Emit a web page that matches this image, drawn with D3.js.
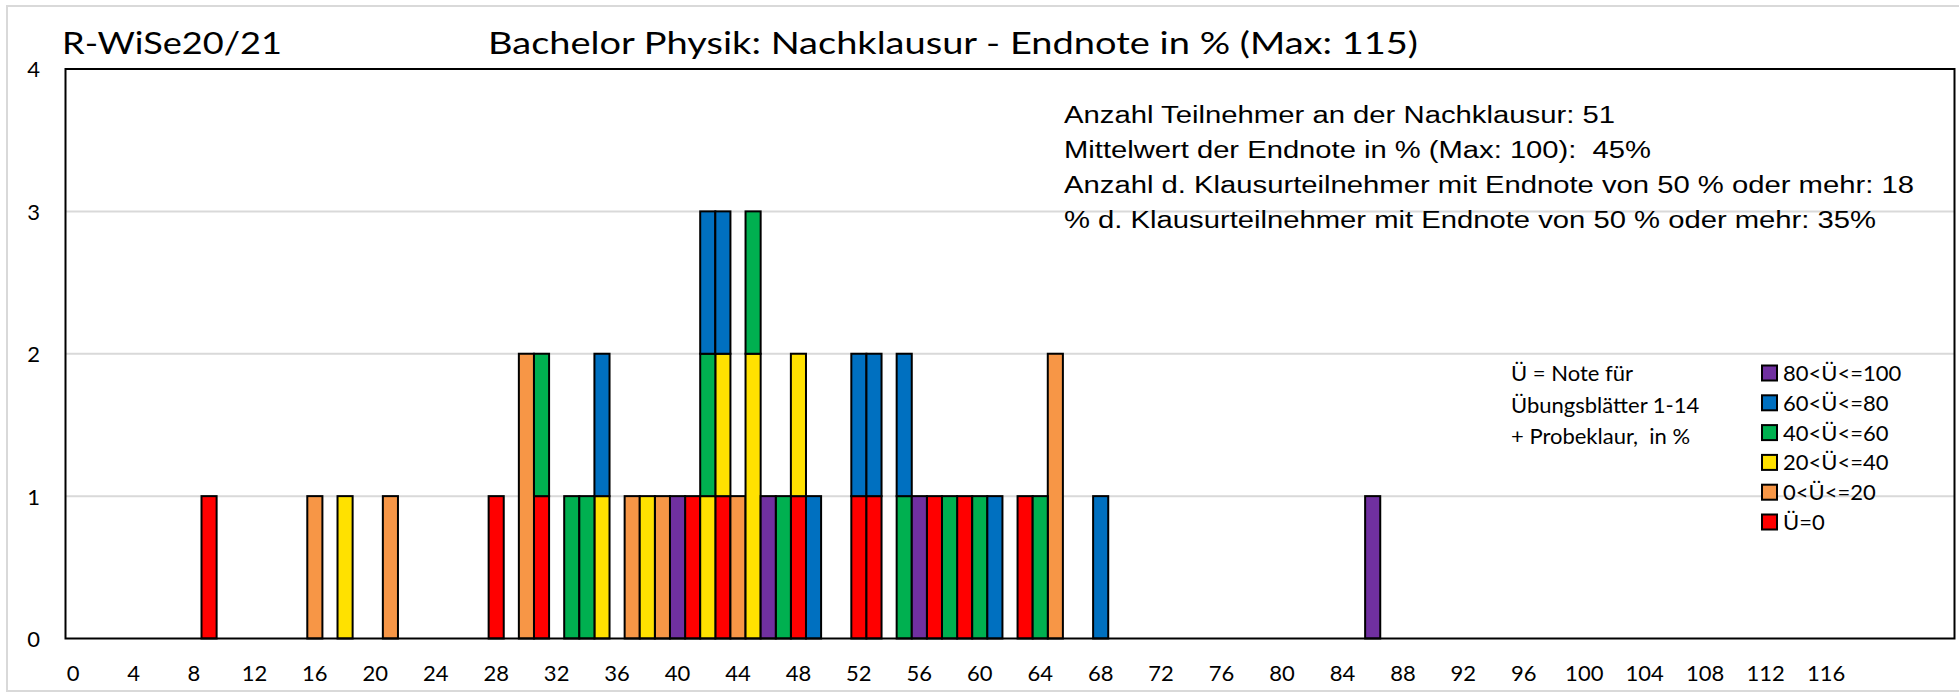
<!DOCTYPE html>
<html>
<head>
<meta charset="utf-8">
<script src="https://cdn.jsdelivr.net/npm/d3@7"></script>
<style>
  body { margin: 0; background: #fff; }
  text { font-family: Lato, "Open Sans", sans-serif; fill: #000; white-space: pre; }
  .stat { font-family: "Liberation Sans", Arial, sans-serif; }
</style>
</head>
<body>
<div id="chart"></div>
<script>
// Endnote in % (Klausur) -> Anzahl, aufgeteilt nach Uebungsnote
var scores = [9,16,18,21,28,30,31,33,34,35,37,38,39,40,41,42,43,44,45,46,47,48,49,52,53,55,56,57,58,59,60,61,63,64,65,68,86];
var ue0      = [1,0,0,0,1,0,1,0,0,0,0,0,0,0,1,0,1,0,0,0,0,1,0,1,1,0,0,1,0,1,0,0,1,0,0,0,0];
var ue0_20   = [0,1,0,1,0,2,0,0,0,0,1,0,1,0,0,0,0,1,0,0,0,0,0,0,0,0,0,0,0,0,0,0,0,0,2,0,0];
var ue20_40  = [0,0,1,0,0,0,0,0,0,1,0,1,0,0,0,1,1,0,2,0,0,1,0,0,0,0,0,0,0,0,0,0,0,0,0,0,0];
var ue40_60  = [0,0,0,0,0,0,1,1,1,0,0,0,0,0,0,1,0,0,1,0,1,0,0,0,0,1,0,0,1,0,1,0,0,1,0,0,0];
var ue60_80  = [0,0,0,0,0,0,0,0,0,1,0,0,0,0,0,1,1,0,0,0,0,0,1,1,1,1,0,0,0,0,0,1,0,0,0,1,0];
var ue80_100 = [0,0,0,0,0,0,0,0,0,0,0,0,0,1,0,0,0,0,0,1,0,0,0,0,0,0,1,0,0,0,0,0,0,0,0,0,1];

var seriesNames = ["Ü=0","0<Ü<=20","20<Ü<=40","40<Ü<=60","60<Ü<=80","80<Ü<=100"];
var seriesColors = ["#ff0000","#f79646","#ffe100","#00b050","#0070c0","#7030a0"];
var categories = d3.range(0, 125);
var xTicks = d3.range(0, 117, 4);
var yTicks = [0,1,2,3,4];

var leftTitle = "R-WiSe20/21";
var mainTitle = "Bachelor Physik: Nachklausur - Endnote in % (Max: 115)";
var statLines = [
  "Anzahl Teilnehmer an der Nachklausur: 51",
  "Mittelwert der Endnote in % (Max: 100):  45%",
  "Anzahl d. Klausurteilnehmer mit Endnote von 50 % oder mehr: 18",
  "% d. Klausurteilnehmer mit Endnote von 50 % oder mehr: 35%"
];
var noteLines = ["Ü = Note für", "Übungsblätter 1-14", "+ Probeklaur,  in %"];

// table for d3.stack
var seriesData = [ue0, ue0_20, ue20_40, ue40_60, ue60_80, ue80_100];
var table = scores.map(function(s, i) {
  var row = { score: s };
  seriesNames.forEach(function(n, k) { row[n] = seriesData[k][i]; });
  return row;
});

var W = 1959, H = 692;
var plot = { left: 65.5, right: 1954.5, top: 69, bottom: 638.5 };

var svg = d3.select("#chart").append("svg")
  .attr("width", W)
  .attr("height", H);

// outer chart frame
svg.append("rect")
  .attr("x", 7).attr("y", 6)
  .attr("width", W).attr("height", 685)
  .attr("fill", "#fff")
  .attr("stroke", "#d9d9d9")
  .attr("stroke-width", 2);

var x = d3.scaleBand()
  .domain(categories)
  .range([plot.left, plot.right])
  .padding(0);

var y = d3.scaleLinear()
  .domain([0, 4])
  .range([plot.bottom, plot.top]);

// gridlines
svg.append("g")
  .selectAll("line")
  .data([1,2,3])
  .enter()
  .append("line")
  .attr("x1", plot.left).attr("x2", plot.right)
  .attr("y1", function(d){ return y(d); })
  .attr("y2", function(d){ return y(d); })
  .attr("stroke", "#d9d9d9")
  .attr("stroke-width", 2);

// stacked bars
var stack = d3.stack().keys(seriesNames);
var layers = stack(table);

svg.append("g")
  .selectAll("g")
  .data(layers)
  .enter()
  .append("g")
  .attr("fill", function(d, i){ return seriesColors[i]; })
  .selectAll("rect")
  .data(function(d){ return d.filter(function(p){ return p[1] > p[0]; }); })
  .enter()
  .append("rect")
  .attr("x", function(p){ return x(p.data.score); })
  .attr("width", x.bandwidth())
  .attr("y", function(p){ return y(p[1]); })
  .attr("height", function(p){ return y(p[0]) - y(p[1]); })
  .attr("stroke", "#000")
  .attr("stroke-width", 2);

// plot border
svg.append("rect")
  .attr("x", plot.left).attr("y", plot.top)
  .attr("width", plot.right - plot.left)
  .attr("height", plot.bottom - plot.top)
  .attr("fill", "none")
  .attr("stroke", "#000")
  .attr("stroke-width", 2);

// x axis labels
var xAxis = d3.axisBottom(x)
  .tickValues(xTicks)
  .tickSize(0)
  .tickPadding(0);
var gx = svg.append("g")
  .attr("transform", "translate(0," + plot.bottom + ")")
  .call(xAxis);
gx.select(".domain").remove();
gx.selectAll("text")
  .attr("y", 42.5)
  .attr("dy", null)
  .style("font-family", "Lato, sans-serif")
  .style("font-size", "22px")
  .attr("fill", "#000");

// y axis labels
var yAxis = d3.axisLeft(y)
  .tickValues(yTicks)
  .tickFormat(d3.format("d"))
  .tickSize(0)
  .tickPadding(0);
var gy = svg.append("g")
  .attr("transform", "translate(40,0)")
  .call(yAxis);
gy.select(".domain").remove();
gy.selectAll("text")
  .attr("dy", "0.36em")
  .style("font-family", "Lato, sans-serif")
  .style("font-size", "22px")
  .attr("fill", "#000");

// titles (stretched wide like in the original)
svg.append("text")
  .attr("x", 62).attr("y", 54)
  .attr("textLength", 220)
  .attr("lengthAdjust", "spacingAndGlyphs")
  .style("font-size", "30px")
  .text(leftTitle);

svg.append("text")
  .attr("x", 488).attr("y", 54)
  .attr("textLength", 930)
  .attr("lengthAdjust", "spacingAndGlyphs")
  .style("font-size", "30px")
  .text(mainTitle);

// statistics box
var statWidths = [551, 587, 850, 812];
svg.append("g")
  .selectAll("text")
  .data(statLines)
  .enter()
  .append("text")
  .attr("class", "stat")
  .attr("x", 1064)
  .attr("y", function(d, i){ return 123 + i * 35; })
  .attr("textLength", function(d, i){ return statWidths[i]; })
  .attr("lengthAdjust", "spacingAndGlyphs")
  .style("font-size", "23.5px")
  .text(function(d){ return d; });

// note next to legend
svg.append("g")
  .selectAll("text")
  .data(noteLines)
  .enter()
  .append("text")
  .attr("x", 1511)
  .attr("y", function(d, i){ return 381 + i * 31.7; })
  .style("font-size", "22px")
  .text(function(d){ return d; });

// legend, top entry = last series
var legend = svg.append("g")
  .selectAll("g")
  .data(seriesNames.slice().reverse())
  .enter()
  .append("g")
  .attr("transform", function(d, i){ return "translate(1762," + (373 + i * 29.8) + ")"; });

legend.append("rect")
  .attr("x", 0).attr("y", -7.5)
  .attr("width", 15).attr("height", 15)
  .attr("fill", function(d){ return seriesColors[seriesNames.indexOf(d)]; })
  .attr("stroke", "#000")
  .attr("stroke-width", 2);

legend.append("text")
  .attr("x", 21)
  .attr("y", 8)
  .style("font-size", "22px")
  .text(function(d){ return d; });
</script>
</body>
</html>
